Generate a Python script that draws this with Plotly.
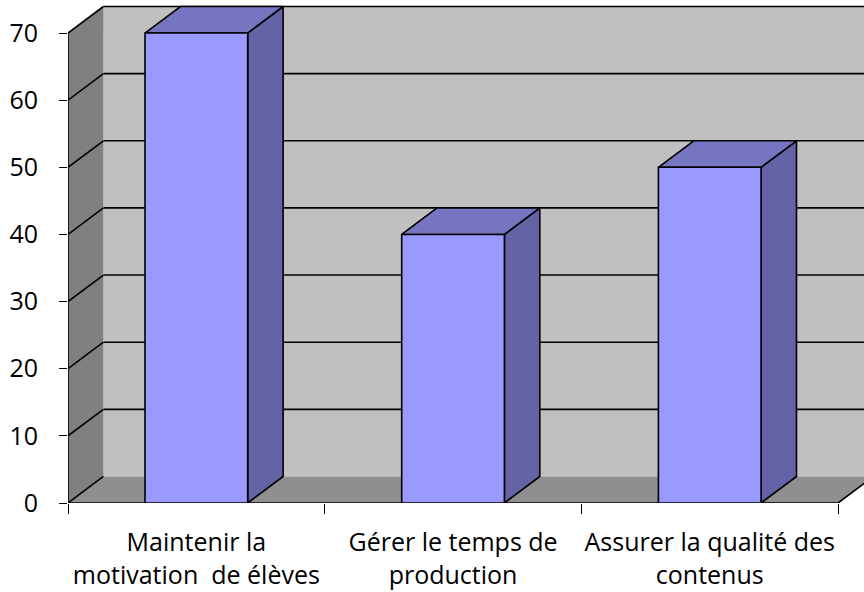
import plotly.graph_objects as go

categories = ["Maintenir la<br>motivation  de élèves", "Gérer le temps de<br>production", "Assurer la qualité des<br>contenus"]
values = [70, 40, 50]
y_ticks = [0, 10, 20, 30, 40, 50, 60, 70]

# geometry (data units)
W = 0.4          # bar width
DX = 0.138       # depth offset in x
DY = 3.95        # depth offset in y
YMAX = 70
XMIN, XMAX = -0.5, 2.5
XR = 2.601

FRONT = "#9999FF"
TOP = "#7575C2"
SIDE = "#6363A5"
BACKWALL = "#C0C0C0"
SIDEWALL = "#808080"
FLOOR = "#8F8F8F"

fig = go.Figure()

def poly(xs, ys, fill, line_color=None, width=0):
    fig.add_trace(go.Scatter(
        x=xs + [xs[0]], y=ys + [ys[0]], mode="lines", fill="toself",
        fillcolor=fill,
        line=dict(color=line_color or fill, width=width),
        hoverinfo="skip", showlegend=False))

def line(xs, ys, width=1.6):
    fig.add_trace(go.Scatter(x=xs, y=ys, mode="lines",
                             line=dict(color="black", width=width),
                             hoverinfo="skip", showlegend=False))

# back wall
poly([XMIN + DX, XR + 1, XR + 1, XMIN + DX], [DY, DY, YMAX + DY, YMAX + DY], BACKWALL)
# gridlines on back wall
for v in y_ticks[1:]:
    line([XMIN + DX, XR + 1], [v + DY, v + DY])
# floor
poly([XMIN, XMAX, XMAX + DX, XR + 1, XR + 1, XMIN + DX], [0, 0, DY, DY, DY, DY], FLOOR)
# left wall
poly([XMIN, XMIN + DX, XMIN + DX, XMIN], [0, DY, YMAX + DY, YMAX], SIDEWALL)
# gridlines on left wall
for v in y_ticks:
    line([XMIN, XMIN + DX], [v, v + DY])
# axis lines
line([XMIN, XMIN], [0, YMAX], 1.6)
line([XMIN, XMAX, XMAX + DX], [0, 0, DY], 1.6)

# bars
for i, v in enumerate(values):
    x0, x1 = i - W / 2, i + W / 2
    poly([x1, x1 + DX, x1 + DX, x1], [0, DY, v + DY, v], SIDE, "black", 1.6)
    poly([x0, x1, x1 + DX, x0 + DX], [v, v, v + DY, v + DY], TOP, "black", 1.6)
    poly([x0, x1, x1, x0], [0, 0, v, v], FRONT, "black", 1.6)

fig.update_layout(
    width=864, height=592,
    margin=dict(l=68, r=0, t=3, b=89),
    paper_bgcolor="white", plot_bgcolor="white",
    font=dict(family="Open Sans", size=25, color="black"),
    showlegend=False,
    xaxis=dict(range=[XMIN, XR], tickmode="array", tickvals=[0, 1, 2],
               ticktext=categories, ticks="", showgrid=False, zeroline=False,
               showline=False, ticklabelstandoff=22,
               minor=dict(tick0=-0.5, dtick=1, ticks="outside", ticklen=10,
                          tickcolor="black", tickwidth=1.2, showgrid=False)),
    yaxis=dict(range=[0, 500 / 6.714], tickmode="array", tickvals=y_ticks,
               ticks="outside", ticklen=8, tickcolor="black", tickwidth=1.2,
               showgrid=False, zeroline=False, showline=False,
               ticklabelstandoff=16),
)

fig.write_html("out.html", config={"displayModeBar": False},
               post_script="document.body.style.margin='0px';")
